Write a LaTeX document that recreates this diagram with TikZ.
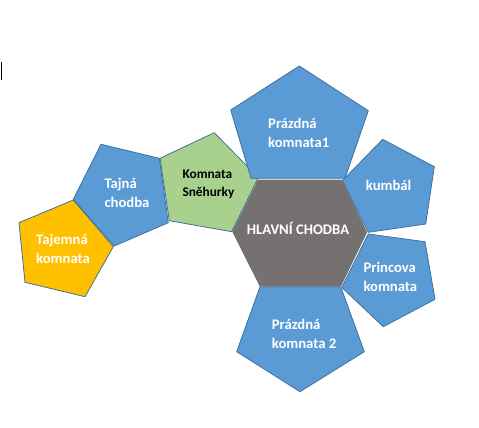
\documentclass[tikz,border=0pt]{standalone}
\usepackage{fontspec}
\setmainfont{Carlito}
\definecolor{offblue}{HTML}{5B9BD5}
\definecolor{edgeblue}{HTML}{41719C}
\definecolor{offgreen}{HTML}{A9D18E}
\definecolor{offyellow}{HTML}{FFC000}
\definecolor{offgray}{HTML}{767171}
\begin{document}
\begin{tikzpicture}[x=1pt,y=-1pt,
  room/.style={draw=edgeblue,line width=0.8pt,line join=round},
  bluer/.style={room,fill=offblue},
  label/.style={inner sep=0pt,anchor=base west,align=left,text=white,
    font=\bfseries\fontsize{14.67}{19}\selectfont},
  darklabel/.style={label,text=black,font=\bfseries\fontsize{13.33}{17.7}\selectfont}]
\useasboundingbox (0,0) rectangle (479,428);
% cursor mark
\draw[line width=1pt] (1.6,62) -- (1.6,80);
% Tajemna komnata
\draw[room,fill=offyellow] (73.3,200) -- (113.3,246.7) -- (85,296.7) -- (25,282.3) -- (19,222.7) -- cycle;
% Tajna chodba
\draw[bluer] (101,144.3) -- (159.3,158.3) -- (168.3,222.7) -- (114.3,246) -- (73.3,199.3) -- cycle;
% Komnata Snehurky
\draw[room,fill=offgreen] (214.3,132.7) -- (258.3,177.7) -- (231.7,231.7) -- (169.3,220.7) -- (160,158.3) -- cycle;
% Prazdna komnata1
\draw[bluer] (299.3,66) -- (368.3,110.7) -- (345,178.3) -- (251,178.3) -- (230.7,110) -- cycle;
% kumbal
\draw[bluer] (382.7,139.3) -- (434.3,166.7) -- (425.7,224) -- (368.3,232.3) -- (342.3,180.7) -- cycle;
% Princova komnata
\draw[bluer] (368.3,234) -- (425,241.7) -- (435,299.3) -- (383.3,326.7) -- (341.7,287.3) -- cycle;
% Prazdna komnata 2
\draw[bluer] (260,286.7) -- (340.7,286.7) -- (364.3,351.7) -- (300,391.7) -- (236.7,351.7) -- cycle;
% Hlavni chodba
\draw[draw=offgray,fill=offgray,line width=0.8pt] (258.3,180) -- (341.7,180) -- (366.7,232.3) -- (340.7,286) -- (260,286) -- (232.7,231.7) -- cycle;
% labels (anchor at baseline of the last line)
\node[label] (tk) at (36,263.3) {Tajemná\\komnata};
\node[label] (tc) at (104.3,207.7) {Tajná\\chodba};
\node[darklabel] (ks) at (182.3,196) {Komnata\\Sněhurky};
\node[label] (p1) at (268,147) {Prázdná\\komnata1};
\node[label] (kb) at (365.7,190) {kumbál};
\node[label] (hc) at (246.7,234.3) {HLAVNÍ CHODBA};
\node[label] (pk) at (363.3,291) {Princova\\komnata};
\node[label] (p2) at (271.7,348.7) {Prázdná\\komnata 2};
\end{tikzpicture}
\end{document}
